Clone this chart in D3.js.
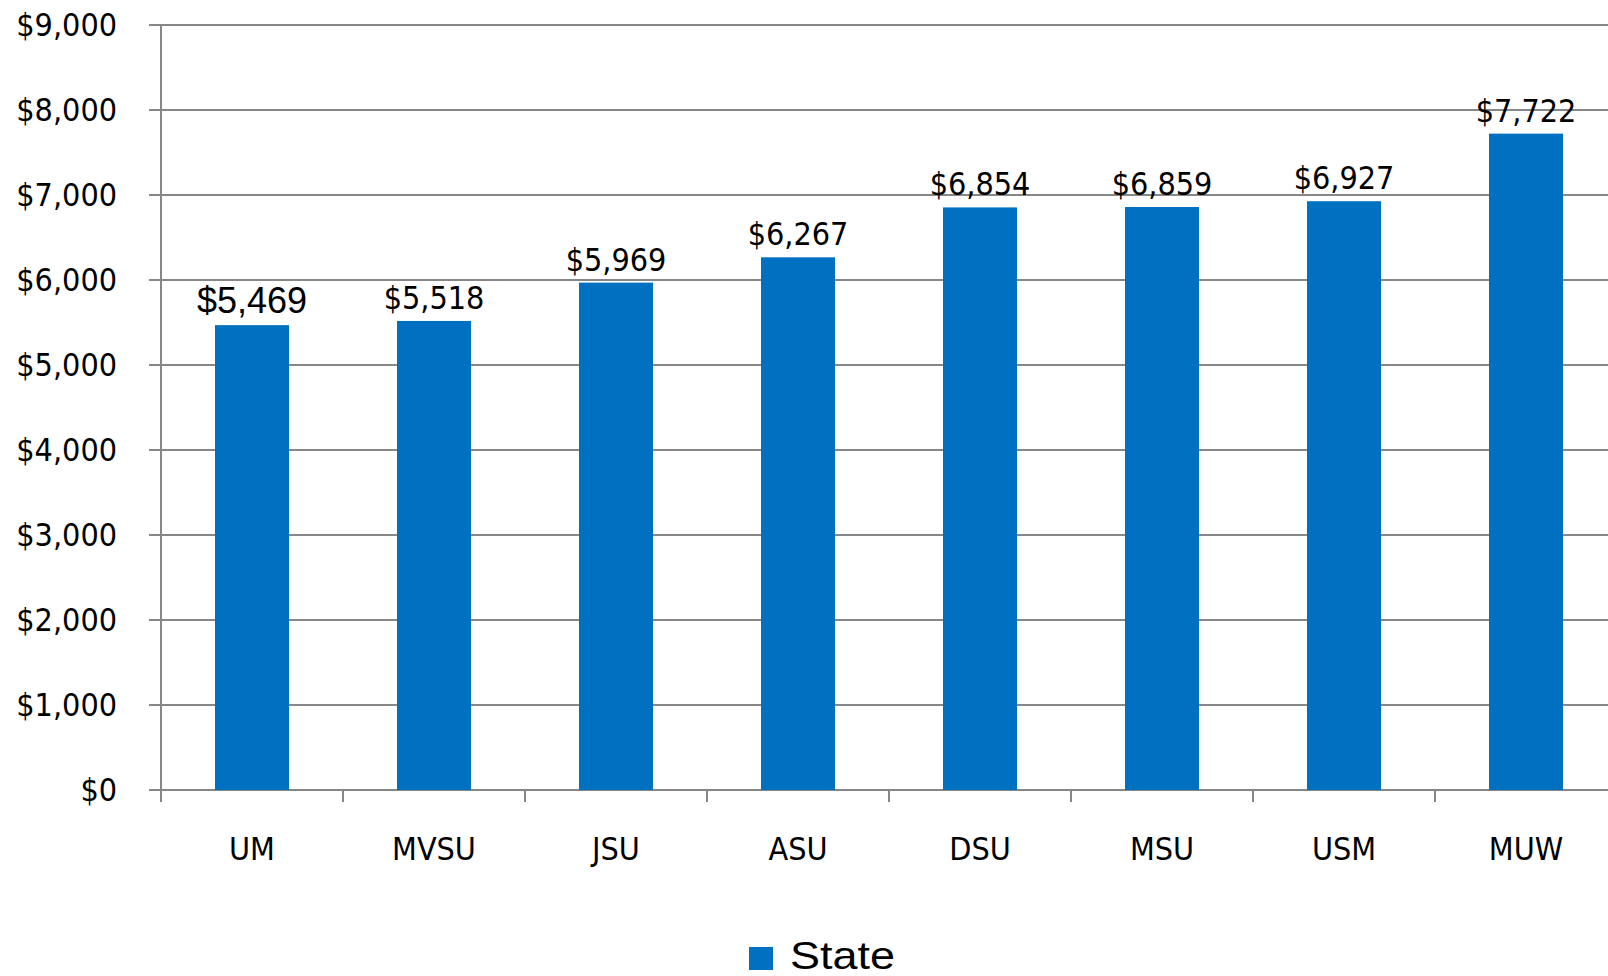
<!DOCTYPE html>
<html>
<head>
<meta charset="utf-8">
<script src="https://cdn.jsdelivr.net/npm/d3@7"></script>
<style>
  body { margin: 0; background: #fff; }
  svg { display: block; }
</style>
</head>
<body>
<svg id="chart" width="1608" height="976"></svg>
<script>
const schools = ["UM", "MVSU", "JSU", "ASU", "DSU", "MSU", "USM", "MUW"];
const stateCost = [5469, 5518, 5969, 6267, 6854, 6859, 6927, 7722];
const yTicks = [0, 1000, 2000, 3000, 4000, 5000, 6000, 7000, 8000, 9000];
const seriesName = "State";

const width = 1608;
const height = 976;
const left = 161;
const bandW = 182;
const barColor = "#0070C0";
const gridColor = "#878787";
const labelFont = "'DejaVu Sans Condensed', 'DejaVu Sans', sans-serif";

const svg = d3.select("#chart");

const x = d3.scaleBand()
  .domain(schools)
  .range([left, left + bandW * schools.length])
  .paddingInner(0)
  .paddingOuter(0);

const y = d3.scaleLinear().domain([0, 9000]).range([790, 25]);

const money = d3.format("$,");

// gridlines + y ticks
svg.append("g")
  .selectAll("line")
  .data(yTicks)
  .join("line")
  .attr("x1", left - 12)
  .attr("x2", width)
  .attr("y1", d => y(d))
  .attr("y2", d => y(d))
  .attr("stroke", gridColor)
  .attr("stroke-width", 2);

svg.append("g")
  .selectAll("text")
  .data(yTicks)
  .join("text")
  .attr("x", 117)
  .attr("y", d => y(d) + 11)
  .attr("text-anchor", "end")
  .attr("font-family", labelFont)
  .attr("font-size", 32)
  .attr("fill", "#000")
  .text(d => money(d));

// y axis line
svg.append("line")
  .attr("x1", left).attr("x2", left)
  .attr("y1", y(9000)).attr("y2", 802)
  .attr("stroke", gridColor)
  .attr("stroke-width", 2);

// x category ticks
svg.append("g")
  .selectAll("line")
  .data(schools.slice(1))
  .join("line")
  .attr("x1", d => x(d))
  .attr("x2", d => x(d))
  .attr("y1", y(0))
  .attr("y2", 802)
  .attr("stroke", gridColor)
  .attr("stroke-width", 2);

// bars
const barW = 74;
svg.append("g")
  .selectAll("rect")
  .data(schools)
  .join("rect")
  .attr("x", d => x(d) + x.bandwidth() / 2 - barW / 2)
  .attr("y", (d, i) => y(stateCost[i]))
  .attr("width", barW)
  .attr("height", (d, i) => y(0) - y(stateCost[i]))
  .attr("fill", barColor);

// value labels
svg.append("g")
  .selectAll("text")
  .data(schools)
  .join("text")
  .attr("x", d => x(d) + x.bandwidth() / 2)
  .attr("y", (d, i) => y(stateCost[i]) - 12)
  .attr("text-anchor", "middle")
  .attr("font-family", (d, i) => i === 0 ? "Liberation Sans" : labelFont)
  .attr("font-size", (d, i) => i === 0 ? 36 : 32)
  .attr("fill", "#000")
  .text((d, i) => money(stateCost[i]));

// x labels
svg.append("g")
  .selectAll("text")
  .data(schools)
  .join("text")
  .attr("x", d => x(d) + x.bandwidth() / 2)
  .attr("y", 860)
  .attr("text-anchor", "middle")
  .attr("font-family", labelFont)
  .attr("font-size", 32)
  .attr("fill", "#000")
  .text(d => d);

// legend
const legend = svg.append("g").attr("transform", "translate(749,947)");
legend.append("rect")
  .attr("width", 24)
  .attr("height", 23)
  .attr("fill", barColor);
legend.append("text")
  .attr("x", 41)
  .attr("y", 22)
  .attr("font-family", "Liberation Sans")
  .attr("font-size", 39)
  .attr("textLength", 105)
  .attr("lengthAdjust", "spacingAndGlyphs")
  .attr("fill", "#000")
  .text(seriesName);
</script>
</body>
</html>
